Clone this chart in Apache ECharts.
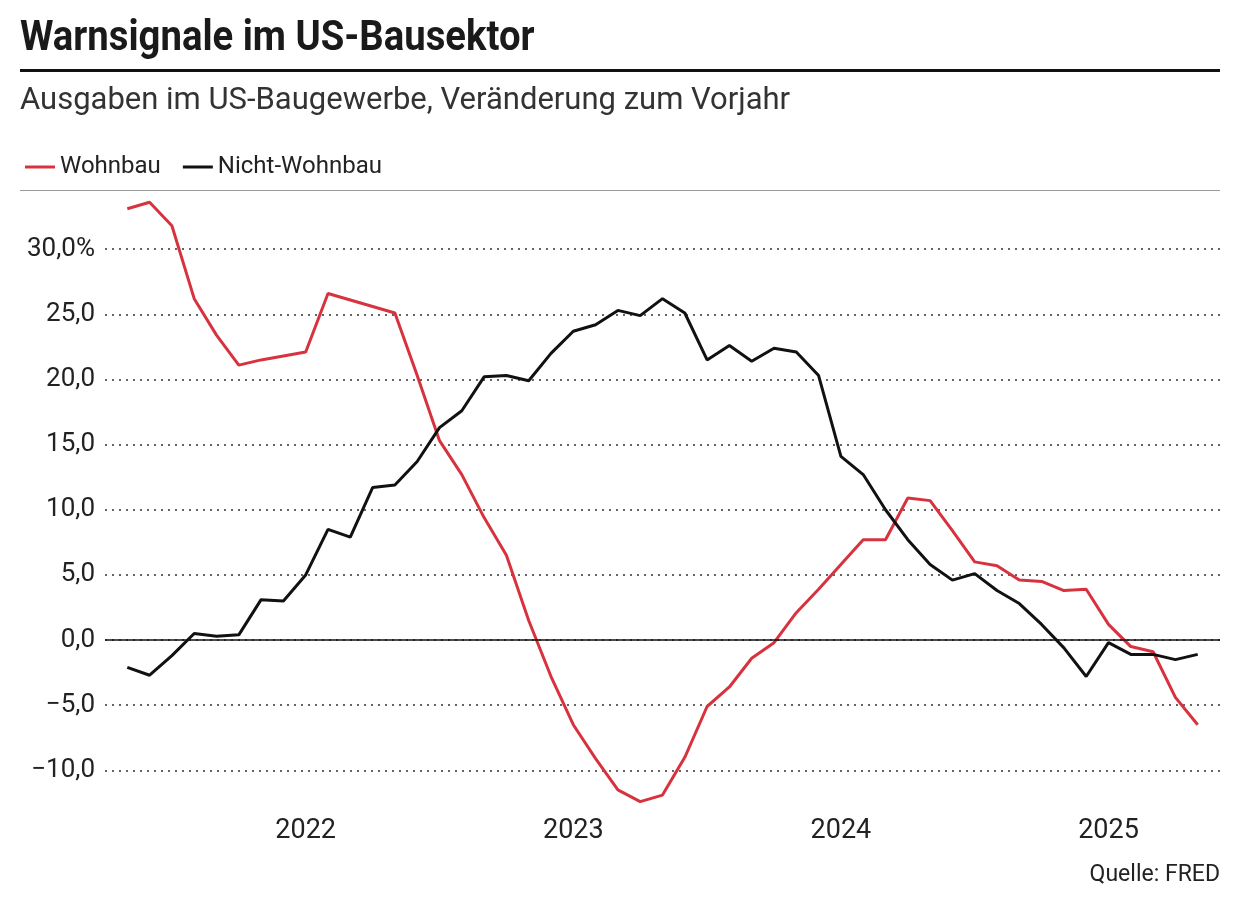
<!DOCTYPE html>
<html><head><meta charset="utf-8">
<script src="https://cdn.jsdelivr.net/npm/echarts@6/dist/echarts.min.js"></script>
<style>html,body{margin:0;padding:0;background:#fff}#c{width:1240px;height:914px}</style>
</head><body><div id="c"></div>
<script>
const months = [];
for (let i = 0; i < 49; i++) { const m = 4 + i; months.push((2021 + Math.floor(m / 12)) + '-' + String(m % 12 + 1).padStart(2, '0')); }
const wohnbau = [33.1,33.6,31.8,26.2,23.4,21.1,21.5,21.8,22.1,26.6,26.1,25.6,25.1,20.3,15.3,12.7,9.4,6.5,1.5,-2.8,-6.5,-9.1,-11.5,-12.4,-11.9,-9.0,-5.1,-3.6,-1.4,-0.2,2.1,3.9,5.8,7.7,7.7,10.9,10.7,8.4,6.0,5.7,4.6,4.5,3.8,3.9,1.2,-0.5,-0.9,-4.4,-6.5];
const nichtWohnbau = [-2.1,-2.7,-1.2,0.5,0.3,0.4,3.1,3.0,5.0,8.5,7.9,11.7,11.9,13.7,16.3,17.6,20.2,20.3,19.9,22.0,23.7,24.2,25.3,24.9,26.2,25.1,21.5,22.6,21.4,22.4,22.1,20.3,14.1,12.7,10.0,7.7,5.8,4.6,5.1,3.8,2.8,1.2,-0.6,-2.8,-0.2,-1.1,-1.1,-1.5,-1.1];
const yearLabels = ['2022','2023','2024','2025'];
const yearIdx = yearLabels.map(y => months.indexOf(y + '-01'));

const font = 'Roboto, "Noto Sans", sans-serif';
const chart = echarts.init(document.getElementById('c'));
chart.setOption({
  animation: false,
  textStyle: { fontFamily: font },
  graphic: [
    { type: 'text', x: 20, y: 18, scaleX: 0.89, style: { text: 'Warnsignale im US-Bausektor', font: 'bold 43px ' + font, fill: '#1a1a1a' } },
    { type: 'rect', shape: { x: 20, y: 69, width: 1200, height: 3 }, style: { fill: '#111' } },
    { type: 'text', left: 20, top: 86, style: { text: 'Ausgaben im US-Baugewerbe, Veränderung zum Vorjahr', font: '31px ' + font, fill: '#333' } },
    { type: 'rect', shape: { x: 20, y: 190, width: 1200, height: 1 }, style: { fill: '#999' } },
    { type: 'text', right: 20, top: 864, style: { text: 'Quelle: FRED', font: '23px ' + font, fill: '#222' } }
  ],
  legend: {
    left: 20, top: 150, itemWidth: 30, itemHeight: 3, itemGap: 22,
    icon: 'rect',
    textStyle: { fontSize: 24, color: '#222', fontFamily: font },
    data: ['Wohnbau', 'Nicht-Wohnbau']
  },
  grid: { left: 105, right: 20, top: 184, height: 651.5 },
  xAxis: {
    type: 'value', min: -1, max: 49, offset: -26,
    axisLine: { show: false }, axisTick: { show: false }, splitLine: { show: false },
    axisLabel: {
      customValues: yearIdx, fontSize: 27, color: '#222', margin: 8,
      formatter: v => months[v] ? months[v].slice(0, 4) : ''
    }
  },
  yAxis: {
    type: 'value', min: -15, max: 35, interval: 5,
    axisLine: { show: false }, axisTick: { show: false },
    splitLine: { showMinLine: false, showMaxLine: false, lineStyle: { type: [2, 5], color: '#333', width: 1.5 } },
    axisLabel: {
      fontSize: 26, color: '#222', margin: 10,
      formatter: v => (v === 35 || v === -15) ? '' : (v < 0 ? '−' : '') + Math.abs(v).toFixed(1).replace('.', ',') + (v === 30 ? '%' : '')
    }
  },
  series: [
    { name: 'Wohnbau', type: 'line', data: wohnbau.map((v, i) => [i, v]), showSymbol: false, color: '#d7333f', lineStyle: { width: 3 },
      markLine: { silent: true, symbol: 'none', label: { show: false }, lineStyle: { color: '#111', width: 1.5, type: 'solid' }, data: [{ yAxis: 0 }] } },
    { name: 'Nicht-Wohnbau', type: 'line', data: nichtWohnbau.map((v, i) => [i, v]), showSymbol: false, color: '#111', lineStyle: { width: 3 } }
  ]
});
</script></body></html>
